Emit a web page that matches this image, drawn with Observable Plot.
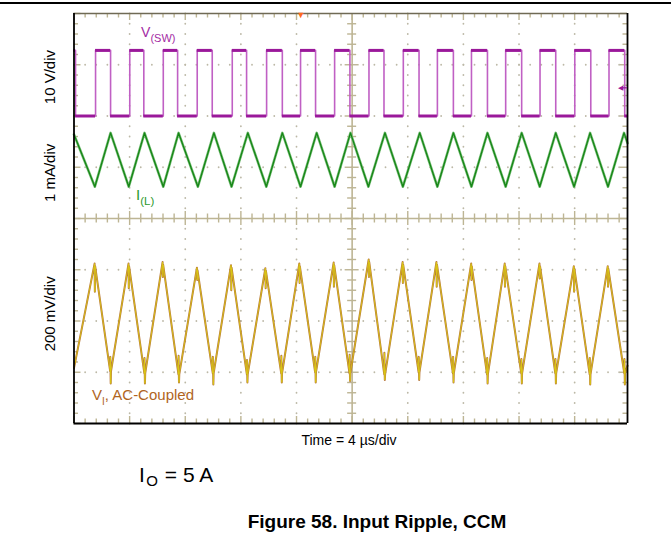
<!DOCTYPE html>
<html><head><meta charset="utf-8">
<script src="https://cdn.jsdelivr.net/npm/d3@7"></script>
<script src="https://cdn.jsdelivr.net/npm/@observablehq/plot@0.6"></script>
<style>
body{margin:0;background:#fff;}
#wrap{position:relative;width:671px;height:540px;overflow:hidden;}
#rule{position:absolute;left:0;top:2px;width:671px;height:2px;background:#000;}
svg{font-family:"Liberation Sans",Arial,sans-serif;}
</style></head><body><div id="wrap"><div id="rule"></div></div>
<script>
// ---- screen: time in µs from left edge (4 µs/div), vertical in divisions (-4..4)
const X_END = 39.8;
const xMajor = [0, 4, 8, 12, 16, 20, 24, 28, 32, 36];
const yMajor = [-4, -3, -2, -1, 0, 1, 2, 3, 4];

// ---- V(SW) switching node, 10 V/div
const swRiseT = [1.55, 4.01, 6.42, 8.86, 11.38, 13.85, 16.29, 18.74, 21.21, 23.68, 26.13, 28.58, 31.04, 33.51, 36.01, 38.47];
const swFallT = [0.11, 2.63, 5.02, 7.45, 9.94, 12.41, 14.98, 17.37, 19.84, 22.29, 24.81, 27.28, 29.73, 32.19, 34.64, 37.16, 39.60];
const swHigh = 3.28;
const swLow = 2.0;

// ---- I(L) inductor current, 1 mA/div
const ilPeakT = [2.63, 5.07, 7.52, 10.06, 12.50, 14.98, 17.45, 19.88, 22.36, 24.86, 27.28, 29.73, 32.19, 34.64, 37.11, 39.55];
const ilValleyT = [1.50, 3.94, 6.42, 8.91, 11.33, 13.83, 16.29, 18.74, 21.17, 23.65, 26.13, 28.58, 31.04, 33.49, 35.96, 38.40];
const ilPeakV = 1.67;
const ilValleyV = 0.62;
const ilStartEnd = [1.64, 1.47];

// ---- V_I input ripple (AC-coupled), 200 mV/div
const viPeakT = [1.50, 3.94, 6.39, 8.86, 11.31, 13.78, 16.22, 18.69, 21.21, 23.65, 26.08, 28.58, 30.99, 33.49, 35.96, 38.40];
const viPeakV = [-0.88, -0.88, -0.85, -0.96, -0.91, -0.97, -0.88, -0.86, -0.80, -0.85, -0.85, -0.88, -0.88, -0.88, -0.93, -0.93];
const viPeakDip = [-1.43, -1.36, -1.14, -1.20, -1.40, -1.36, -1.26, -1.33, -1.14, -1.26, -1.33, -1.20, -1.33, -1.17, -1.43, -1.33];
const viValleyT = [2.63, 5.09, 7.54, 10.01, 12.46, 14.93, 17.37, 19.84, 22.34, 24.81, 27.28, 29.73, 32.19, 34.64, 37.11, 39.60];
const viValleyV = [-2.98, -3.02, -3.04, -3.02, -3.04, -3.02, -3.00, -3.02, -3.04, -3.00, -3.02, -3.04, -3.02, -3.02, -3.04, -3.02];
const viValleyRise = [-2.70, -2.72, -2.68, -2.70, -2.76, -2.68, -2.70, -2.66, -2.62, -2.70, -2.70, -2.72, -2.74, -2.74, -2.72, -2.74];
const viValleyDip = [-3.22, -3.22, -3.20, -3.24, -3.20, -3.20, -3.20, -3.17, -3.15, -3.15, -3.20, -3.22, -3.22, -3.22, -3.24, -3.24];
const viStartEnd = [-2.92, -2.87];

// ---- markers and labels
const triggerT = 16.3;
const chMarker = {t: 39.3, v: 2.55};
const scaleLabels = ["10 V/div", "1 mA/div", "200 mV/div"];
const scaleLabelCenterV = [2.75, 0.88, -1.87];
const traceLabels = [
  {main: "V", sub: "(SW)", rest: "", t: 4.86, v: 3.54, color: "#a42ca4", size: 14, subSize: 11},
  {main: "I", sub: "(L)", rest: "", t: 4.50, v: 0.36, color: "#2d9a2d", size: 15, subSize: 11.5},
  {main: "V", sub: "I", rest: ", AC-Coupled", t: 1.33, v: -3.55, color: "#b0651e", size: 15, subSize: 10}
];
const timeLabel = "Time = 4 µs/div";
const ioLabel = {main: "I", sub: "O", rest: " = 5 A"};
const figTitle = "Figure 58. Input Ripple, CCM";

// ---- layout
const W = 671, H = 540, mL = 73.5, mR = 44, mT = 13, mB = 117;
const pxX = (W - mL - mR) / X_END;     // px per µs
const pxY = (H - mT - mB) / 8;         // px per division
const xMinor = d3.range(0, X_END - 0.1, 0.8);
const yMinor = d3.range(-4, 4.001, 0.2);
const isMajX = t => Math.abs(t / 4 - Math.round(t / 4)) < 1e-6;
const isMajY = v => Math.abs(v - Math.round(v)) < 1e-6;

// grid dots along major lines
const gridDots = [];
for (const gx of xMajor) if (gx !== 0 && gx !== 20) for (const v of yMinor) gridDots.push({t: gx, v});
for (const gy of yMajor) if (Math.abs(gy) !== 4 && gy !== 0) for (const t of xMinor) gridDots.push({t, v: gy});

// V(SW) polyline
const swEvents = swRiseT.map(t => ({t, r: true})).concat(swFallT.map(t => ({t, r: false}))).sort((a, b) => a.t - b.t);
const swPts = [{t: 0, v: swHigh}];
for (const e of swEvents) {
  if (e.r) { swPts.push({t: e.t, v: swLow}, {t: e.t, v: swHigh}); }
  else { swPts.push({t: e.t, v: swHigh}, {t: e.t, v: swLow}); }
}
swPts.push({t: X_END, v: swLow});
const swFlat = [];
for (let i = 0; i < swPts.length - 1; i++) {
  if (swPts[i].v === swPts[i + 1].v && swPts[i + 1].t > swPts[i].t) swFlat.push({t1: swPts[i].t, t2: swPts[i + 1].t, v: swPts[i].v});
}

// I(L) polyline
const ilPts = [{t: 0, v: ilStartEnd[0]}]
  .concat(ilPeakT.map(t => ({t, v: ilPeakV})), ilValleyT.map(t => ({t, v: ilValleyV})))
  .sort((a, b) => a.t - b.t);
ilPts.push({t: X_END, v: ilStartEnd[1]});

// V_I polyline with spikes
const viPts = [{t: 0, v: viStartEnd[0]}];
viPeakT.forEach((t, i) => {
  viPts.push({t: t - 0.02, v: viPeakV[i]}, {t, v: viPeakDip[i]}, {t: t + 0.02, v: viPeakV[i] - 0.05});
});
viValleyT.forEach((t, i) => {
  viPts.push({t: t - 0.03, v: viValleyV[i]}, {t: t - 0.02, v: viValleyRise[i]}, {t: t + 0.01, v: viValleyDip[i]}, {t: t + 0.03, v: viValleyV[i]});
});
viPts.sort((a, b) => a.t - b.t);
viPts.push({t: X_END, v: viStartEnd[1]});

const tan = "#bdb594";
const minorLenX = 4.5 / pxX, majorLenX = 7 / pxX;   // horizontal tick lengths in µs
const minorLenY = 4.5 / pxY, majorLenY = 7 / pxY;   // vertical tick lengths in div

const plot = Plot.plot({
  width: W, height: H,
  marginLeft: mL, marginRight: mR, marginTop: mT, marginBottom: mB,
  x: {domain: [0, X_END], axis: null},
  y: {domain: [-4, 4], axis: null},
  style: {background: "transparent", overflow: "visible"},
  marks: [
    Plot.dot(gridDots, {x: "t", y: "v", r: 0.9, fill: "#bcb8a6", stroke: null}),
    // center axes
    Plot.ruleX([20], {stroke: tan, strokeWidth: 1.6}),
    Plot.ruleY([0], {x1: 0, x2: X_END, stroke: tan, strokeWidth: 1.6}),
    Plot.ruleY(yMinor.filter(v => Math.abs(v) < 3.99), {y: d => d, x1: d => 20 - (isMajY(d) ? majorLenX : minorLenX), x2: d => 20 + (isMajY(d) ? majorLenX : minorLenX), stroke: tan, strokeWidth: 1.4}),
    Plot.ruleX(xMinor.filter(t => t > 0.1), {x: d => d, y1: d => -(isMajX(d) ? majorLenY : minorLenY), y2: d => (isMajX(d) ? majorLenY : minorLenY), stroke: tan, strokeWidth: 1.4}),
    // edge ticks
    Plot.ruleY(yMinor, {y: d => d, x1: 0, x2: d => (isMajY(d) ? majorLenX : minorLenX), stroke: tan, strokeWidth: 1.4}),
    Plot.ruleY(yMinor, {y: d => d, x1: d => X_END - (isMajY(d) ? majorLenX : minorLenX), x2: X_END, stroke: tan, strokeWidth: 1.4}),
    Plot.ruleX(xMinor, {x: d => d, y1: 4, y2: d => 4 - (isMajX(d) ? majorLenY : minorLenY), stroke: tan, strokeWidth: 1.4}),
    Plot.ruleX(xMinor, {x: d => d, y1: -4, y2: d => -4 + (isMajX(d) ? majorLenY : minorLenY), stroke: tan, strokeWidth: 1.4}),
    // traces
    Plot.line(swPts, {x: "t", y: "v", stroke: "#c060c4", strokeWidth: 1.6}),
    Plot.ruleY(swFlat, {y: "v", x1: "t1", x2: "t2", stroke: "#9a189a", strokeWidth: 3}),
    Plot.line(ilPts, {x: "t", y: "v", stroke: "#7cc07c", strokeWidth: 2.6}),
    Plot.line(ilPts, {x: "t", y: "v", stroke: "#168616", strokeWidth: 1.3}),
    Plot.line(viPts, {x: "t", y: "v", stroke: "#b06a28", strokeWidth: 2, strokeOpacity: 0.9}),
    Plot.line(viPts, {x: "t", y: "v", stroke: "#dccb10", strokeWidth: 0.8}),
    // border
    Plot.ruleY([4], {x1: 0, x2: X_END, stroke: "#6f6a55", strokeWidth: 1.6}),
    Plot.ruleX([0, X_END], {stroke: "#000", strokeWidth: 1.8}),
    Plot.ruleY([-4], {x1: 0, x2: X_END, stroke: "#000", strokeWidth: 1.8}),
    // markers
    Plot.text([triggerT], {x: d => d, y: 4, text: () => "▼", fill: "#ff6a20", fontSize: 9, dy: 2}),
    Plot.ruleY([chMarker], {y: "v", x1: "t", x2: X_END, stroke: "#9a189a", strokeWidth: 1.2}),
    Plot.text([chMarker], {x: "t", y: "v", text: () => "◀", fill: "#9a189a", fontSize: 7})
  ]
});
document.getElementById("wrap").appendChild(plot);

const sx = plot.scale("x"), sy = plot.scale("y");
const svg = d3.select(plot);
const font = '"Liberation Sans", Arial, sans-serif';

// rotated scale labels
scaleLabels.forEach((s, i) => {
  svg.append("text").attr("transform", `translate(55,${sy.apply(scaleLabelCenterV[i])}) rotate(-90)`)
    .attr("text-anchor", "middle").attr("fill", "#000").style("font", `15px ${font}`).text(s);
});
// trace labels
for (const L of traceLabels) {
  const t = svg.append("text").attr("x", sx.apply(L.t)).attr("y", sy.apply(L.v)).attr("text-anchor", "start")
    .attr("fill", L.color).style("font-family", font).attr("font-size", L.size);
  t.append("tspan").text(L.main);
  t.append("tspan").attr("font-size", L.subSize).attr("dy", 5).text(L.sub);
  if (L.rest) t.append("tspan").attr("dy", -5).text(L.rest);
}
// bottom texts
svg.append("text").attr("x", 349).attr("y", 445).attr("text-anchor", "middle").attr("fill", "#000").style("font", `14px ${font}`).text(timeLabel);
const io = svg.append("text").attr("x", 139).attr("y", 481.5).attr("text-anchor", "start").attr("fill", "#000").style("font-family", font).attr("font-size", 21);
io.append("tspan").text(ioLabel.main);
io.append("tspan").attr("font-size", 15).attr("dx", 1.5).attr("dy", 4).text(ioLabel.sub);
io.append("tspan").attr("dy", -4).attr("dx", 1).text(ioLabel.rest);
svg.append("text").attr("x", 377).attr("y", 528).attr("text-anchor", "middle").attr("fill", "#000").style("font", `bold 19px ${font}`).text(figTitle);
</script></body></html>
